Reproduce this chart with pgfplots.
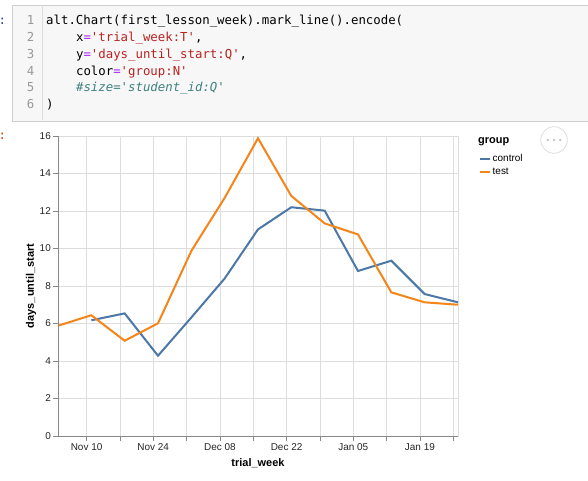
\documentclass[border=0pt]{standalone}
\usepackage{pgfplots}
\pgfplotsset{compat=1.18}
\usepackage{fontspec}
\setmainfont{Liberation Sans}
\newfontfamily\codefont{DejaVu Sans Mono}
\definecolor{ctrl}{HTML}{4C78A8}
\definecolor{tst}{HTML}{F58518}
\definecolor{gridc}{HTML}{DDDDDD}
\definecolor{axc}{HTML}{888888}
\definecolor{cellbg}{HTML}{F7F7F7}
\definecolor{cellbd}{HTML}{CFCFCF}
\definecolor{strc}{HTML}{BA2121}
\definecolor{opc}{HTML}{AA22FF}
\definecolor{cmc}{HTML}{408080}
\definecolor{lnc}{HTML}{999999}
\definecolor{inp}{HTML}{303F9F}
\definecolor{outp}{HTML}{D84315}
\pgfplotstableread{
d v
-6 5.88
1 6.44
8 5.08
15 6.01
22 9.87
29 12.7
36 15.88
43 12.8
50 11.34
57 10.75
64 7.66
71 7.13
78 7.0
}\testdata
\pgfplotstableread{
d v
1 6.17
8 6.54
15 4.28
22 6.32
29 8.4
36 11.02
43 12.2
50 12.02
57 8.8
64 9.35
71 7.57
78 7.13
}\ctrldata
\begin{document}
\begin{tikzpicture}
\useasboundingbox (0bp,0bp) rectangle (588bp,481bp);
\fill[white] (0bp,0bp) rectangle (588bp,481bp);
% code cell
\filldraw[fill=cellbg,draw=cellbd,line width=0.8bp] (12.5bp,360bp) rectangle (600bp,476bp);
\draw[gridc,line width=0.8bp] (42bp,360.5bp) -- (42bp,475.5bp);
\node[anchor=west,inner sep=0,text=inp,font=\codefont\fontsize{12.4}{15}\selectfont] at (-1.5bp,460bp) {:};
\node[anchor=west,inner sep=0,text=outp,font=\codefont\fontsize{12.4}{15}\selectfont] at (-1.5bp,345bp) {:};
\begin{scope}[every node/.style={inner sep=0,font=\codefont\fontsize{12.4}{15}\selectfont}]
\foreach \i/\yy in {1/456,2/439.3,3/422.6,4/405.9,5/389.2,6/372.5}{
  \node[anchor=base east,text=lnc] at (34.5bp,\yy bp) {\i};
}
\node[anchor=base west] at (46bp,456bp) {alt.Chart(first\_lesson\_week).mark\_line().encode(};
\node[anchor=base west] at (75.9bp,439.3bp) {x\textcolor{opc}{=}\textcolor{strc}{'trial\_week:T'},};
\node[anchor=base west] at (75.9bp,422.6bp) {y\textcolor{opc}{=}\textcolor{strc}{'days\_until\_start:Q'},};
\node[anchor=base west] at (75.9bp,405.9bp) {color\textcolor{opc}{=}\textcolor{strc}{'group:N'}};
\node[anchor=base west,text=cmc] at (75.9bp,389.2bp) {\itshape \#size='student\_id:Q'};
\node[anchor=base west] at (46bp,372.5bp) {)};
\end{scope}
% chart
\begin{axis}[
  at={(58bp,45bp)}, anchor=south west, scale only axis, width=400bp, height=300bp,
  xmin=-6, xmax=78, ymin=0, ymax=16,
  xtick={0,7,...,77},
  xticklabels={Nov 10,,Nov 24,,Dec 08,,Dec 22,,Jan 05,,Jan 19,},
  ytick={0,2,...,16},
  xtick pos=bottom, ytick pos=left,
  grid=major, major grid style={gridc, line width=0.8bp},
  axis line style={gridc, line width=0.8bp},
  tick style={axc, line width=0.8bp}, major tick length=5bp, tick align=outside,
  ticklabel style={font=\fontsize{10}{12}\selectfont, text=black!85, inner sep=2bp},
  /pgf/number format/assume math mode=true,
  xlabel={trial\_week}, ylabel={days\_until\_start},
  label style={font=\bfseries\fontsize{11}{13}\selectfont},
  xlabel style={at={(rel axis cs:0.5,0)}, anchor=center, yshift=-27bp},
  ylabel style={at={(rel axis cs:0,0.5)}, anchor=center, yshift=27bp},
  legend style={draw=none, fill=none, at={(rel axis cs:1.0525,0.945)}, anchor=north west,
    inner sep=0pt, row sep=2.5bp, font=\fontsize{10}{12}\selectfont, nodes={inner sep=1.5bp}},
  legend cell align=left,
  legend image code/.code={\draw[#1,line width=2bp](0bp,0bp)--(10bp,0bp);},
  clip=false,
]
\addplot[ctrl, line width=2bp, no marks] table[x=d,y=v] {\ctrldata};
\addlegendentry{control}
\addplot[tst, line width=2bp, no marks] table[x=d,y=v] {\testdata};
\addlegendentry{test}
\draw[axc, line width=1bp] (rel axis cs:0,1) -- (rel axis cs:0,0) -- (rel axis cs:1,0);
\end{axis}
\node[anchor=west,inner sep=0,font=\bfseries\fontsize{11}{13}\selectfont] at (478bp,339bp) {group};
\draw[gridc, fill=white, line width=0.8bp] (554bp,341bp) circle (13.3bp);
\foreach \xx in {547.7,554,560.3}{\fill[black!22] (\xx bp,341bp) circle (1.4bp);}
\end{tikzpicture}
\end{document}
